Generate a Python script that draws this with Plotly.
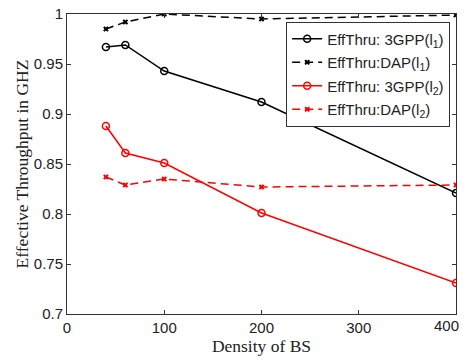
import plotly.graph_objects as go

density = [40, 60, 100, 200, 400]
gpp_l1 = [0.967, 0.969, 0.943, 0.912, 0.821]
dap_l1 = [0.985, 0.992, 1.000, 0.995, 0.999]
gpp_l2 = [0.888, 0.861, 0.851, 0.801, 0.731]
dap_l2 = [0.837, 0.829, 0.835, 0.827, 0.829]

x_ticks = [0, 100, 200, 300, 400]
x_ticktext = ["0", "100", "200", "300", ""]
x_last_tick = 400
x_last_text = "400"
y_ticks = [0.7, 0.75, 0.8, 0.85, 0.9, 0.95, 1.0]
y_ticktext = ["0.7", "0.75", "0.8", "0.85", "0.9", "0.95", "1"]

dash = "8px,5px"
fig = go.Figure()
fig.add_trace(go.Scatter(x=density, y=gpp_l1, mode="lines+markers", name="EffThru: 3GPP(l<sub>1</sub>)",
                         legendgroup="a",
                         line=dict(color="black", width=1.5),
                         marker=dict(symbol="circle-open", size=7, color="black", line=dict(width=1.5))))
fig.add_trace(go.Scatter(x=density, y=dap_l1, mode="lines+markers", name="EffThru:DAP(l<sub>1</sub>)",
                         legendgroup="b",
                         line=dict(color="black", width=1.5, dash=dash),
                         marker=dict(symbol="x", size=5, color="black")))
fig.add_trace(go.Scatter(x=density, y=gpp_l2, mode="lines+markers", name="EffThru: 3GPP(l<sub>2</sub>)",
                         legendgroup="c",
                         line=dict(color="red", width=1.5),
                         marker=dict(symbol="circle-open", size=7, color="red", line=dict(width=1.5))))
fig.add_trace(go.Scatter(x=density, y=dap_l2, mode="lines+markers", name="EffThru:DAP(l<sub>2</sub>)",
                         legendgroup="d",
                         line=dict(color="red", width=1.5, dash=dash),
                         marker=dict(symbol="x", size=5, color="red")))

tickfont = dict(family="Liberation Sans, Arial", size=15, color="#222222")
axis_common = dict(showgrid=False, zeroline=False, showline=True, linecolor="#333333", linewidth=1,
                   mirror="ticks", ticks="inside", ticklen=4, tickcolor="#333333", automargin=False,
                   tickfont=tickfont)

fig.add_annotation(x=x_last_tick, xref="x", y=0, yref="paper", yanchor="top", xanchor="center",
                   text=x_last_text, showarrow=False, xshift=-10, yshift=-1, font=tickfont)

fig.update_layout(
    width=468, height=362,
    margin=dict(l=67, r=12, t=14, b=48),
    paper_bgcolor="white", plot_bgcolor="white",
    xaxis=dict(range=[0, 400], tickvals=x_ticks, ticktext=x_ticktext,
               title=dict(text="Density of BS", font=dict(family="Liberation Serif, Times New Roman", size=17.5, color="#222222"), standoff=0),
               **axis_common),
    yaxis=dict(range=[0.7, 1.0], tickvals=y_ticks, ticktext=y_ticktext,
               title=dict(text="Effective Throughput in GHZ", font=dict(family="Liberation Serif, Times New Roman", size=17.5, color="#222222"), standoff=0),
               **axis_common),
    legend=dict(x=0.985, y=0.975, xanchor="right", yanchor="top",
                bgcolor="white", bordercolor="#333333", borderwidth=1,
                font=dict(family="Liberation Sans, Arial", size=15, color="#222222"),
                tracegroupgap=1, itemwidth=30),
    showlegend=True,
)

fig.write_html("out.html", config={"displayModeBar": False},
               post_script="document.body.style.margin='0';document.body.style.overflow='hidden';")
